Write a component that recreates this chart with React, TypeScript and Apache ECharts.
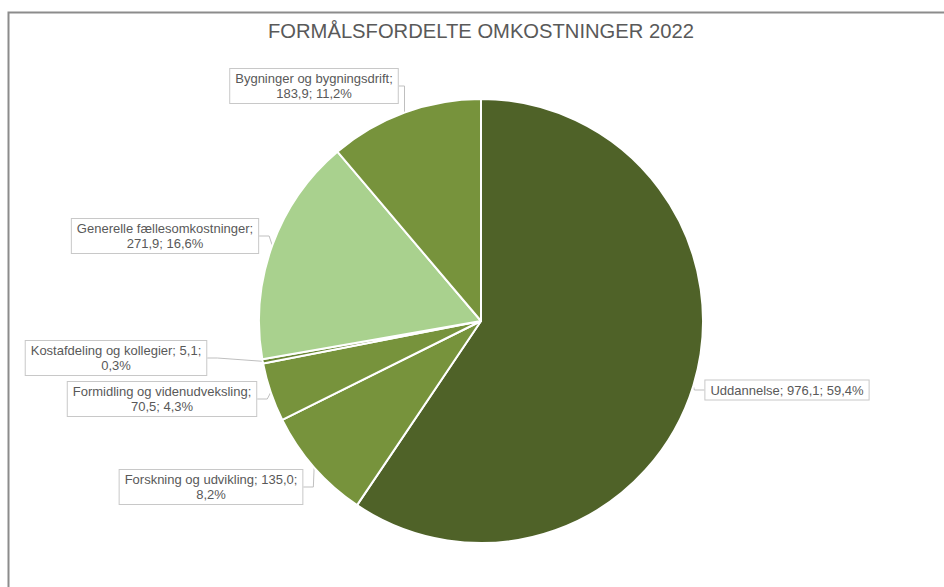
import React, { useEffect, useRef } from "react";
import * as echarts from "echarts";

const titleText = "FORMÅLSFORDELTE OMKOSTNINGER 2022";
const categories = [
  "Uddannelse",
  "Forskning og udvikling",
  "Formidling og videnudveksling",
  "Kostafdeling og kollegier",
  "Generelle fællesomkostninger",
  "Bygninger og bygningsdrift",
];
const values = [976.1, 135.0, 70.5, 5.1, 271.9, 183.9];
const sliceColors = ["#4f6228", "#77933c", "#77933c", "#6a8734", "#a9d18e", "#77933c"];
// categories whose label breaks after the value rather than after the name
const breakAfterValue = ["Kostafdeling og kollegier", "Forskning og udvikling"];
const singleLine = ["Uddannelse"];
// label box centres (layout only)
const labelCenters: [number, number][] = [
  [787, 390],
  [211, 487],
  [162, 399],
  [116, 358],
  [165, 236],
  [314, 86],
];

const fmt = (n: number) => n.toFixed(1).replace(".", ",");

export default function App() {
  const ref = useRef<HTMLDivElement>(null);
  useEffect(() => {
    if (!ref.current) return;
    const chart = echarts.init(ref.current, undefined, { renderer: "svg" });
    const total = values.reduce((a, b) => a + b, 0);
    const data = categories.map((name, i) => ({
      name,
      value: values[i],
      itemStyle: { color: sliceColors[i] },
    }));
    chart.setOption({
      animation: false,
      textStyle: { fontFamily: "Liberation Sans, Arial, sans-serif" },
      title: {
        text: titleText,
        left: 268,
        top: 21,
        padding: 0,
        textStyle: {
          color: "#595959",
          fontSize: 20.2,
          fontWeight: "normal",
          fontFamily: "Liberation Sans, Arial, sans-serif",
        },
      },
      graphic: [
        {
          type: "rect",
          shape: { x: 8.5, y: 12.5, width: 1000, height: 1000 },
          style: { fill: "none", stroke: "#8c8c8c", lineWidth: 2 },
          silent: true,
        },
      ],
      series: [
        {
          type: "pie",
          center: [481, 321],
          radius: 222,
          startAngle: 90,
          clockwise: true,
          avoidLabelOverlap: false,
          emphasis: { disabled: true },
          itemStyle: { borderColor: "#ffffff", borderWidth: 2 },
          data,
          label: {
            show: true,
            color: "#595959",
            fontSize: 13,
            lineHeight: 15,
            fontFamily: "Liberation Sans, Arial, sans-serif",
            backgroundColor: "#ffffff",
            borderColor: "#c8c8c8",
            borderWidth: 1,
            padding: [2, 5],
            align: "center",
            formatter: (p: any) => {
              const v = fmt(p.value);
              const pct = fmt((p.value / total) * 100) + "%";
              if (singleLine.includes(p.name)) return `${p.name}; ${v}; ${pct}`;
              if (breakAfterValue.includes(p.name)) return `${p.name}; ${v};\n${pct}`;
              return `${p.name};\n${v}; ${pct}`;
            },
          },
          labelLine: {
            show: true,
            length: 10,
            length2: 10,
            lineStyle: { color: "#bfbfbf", width: 1 },
          },
          labelLayout: (params: any) => {
            const c = labelCenters[params.dataIndex];
            return {
              x: c[0],
              y: c[1],
              align: "center",
              verticalAlign: "middle",
            };
          },
        },
      ],
    });
    return () => chart.dispose();
  }, []);
  return (
    <div
      ref={ref}
      style={{ position: "fixed", left: 0, top: 0, width: 944, height: 587, background: "#ffffff" }}
    />
  );
}
